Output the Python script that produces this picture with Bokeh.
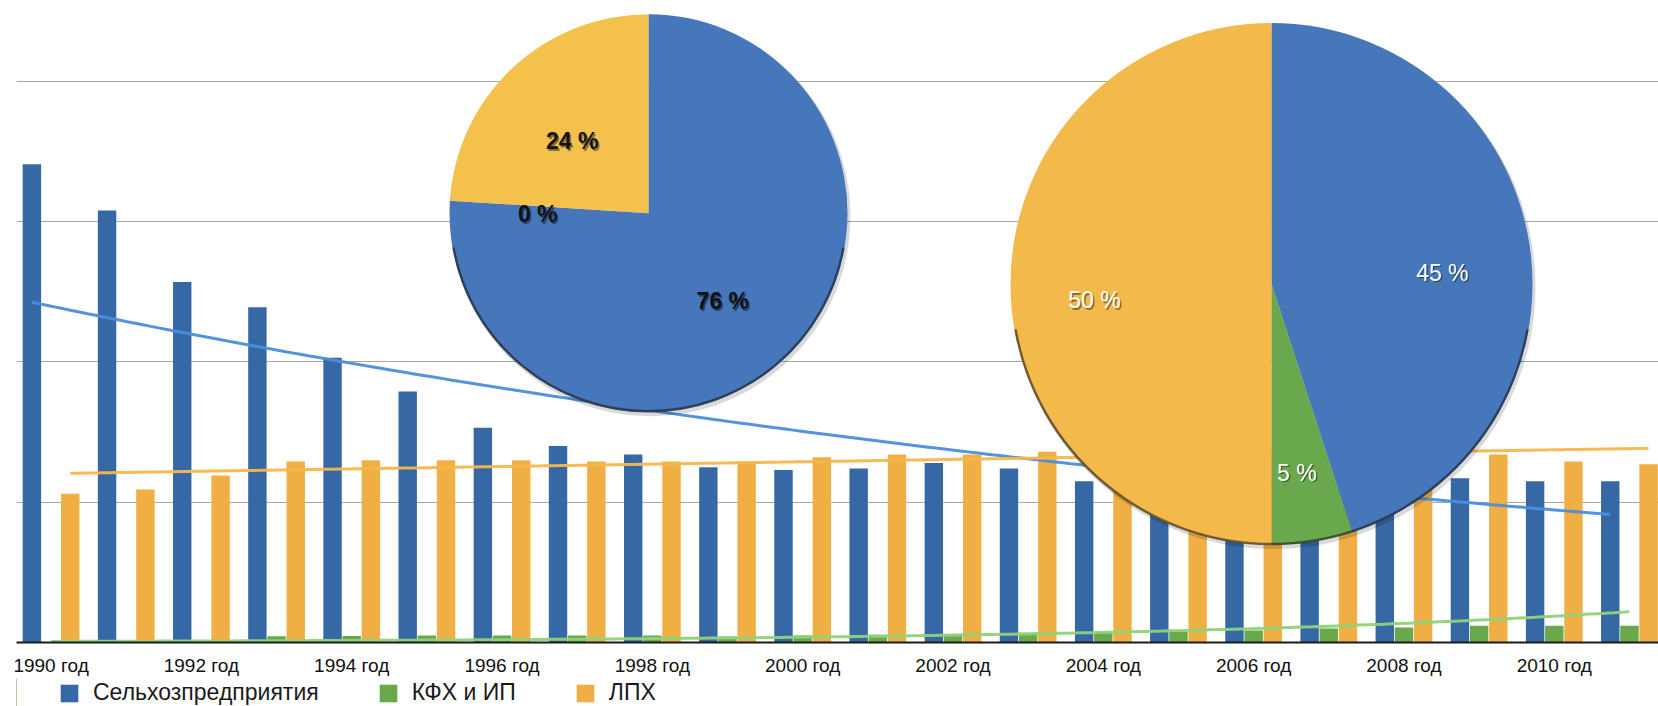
import numpy as np
from bokeh.plotting import figure
from bokeh.layouts import column
from bokeh.models import FixedTicker, Legend, LegendItem, Range1d, ColumnDataSource
from bokeh.core.properties import value
from bokeh.embed import file_html
from bokeh.resources import INLINE

# ---------------- data ----------------
years = list(range(1990, 2012))
tick_years = years[::2]
tick_labels = [f"{y} год" for y in tick_years]
series_names = ["Сельхозпредприятия", "КФХ и ИП", "ЛПХ"]

agri = [3.41, 3.08, 2.57, 2.39, 2.03, 1.79, 1.53, 1.40, 1.34, 1.25, 1.23,
        1.24, 1.28, 1.24, 1.15, 1.15, 1.12, 1.15, 1.17, 1.17, 1.15, 1.15]
kfh = [0.0005, 0.002, 0.006, 0.045, 0.047, 0.05, 0.05, 0.05, 0.05, 0.043, 0.05,
       0.055, 0.06, 0.07, 0.075, 0.078, 0.085, 0.10, 0.107, 0.12, 0.12, 0.12]
lph = [1.06, 1.09, 1.19, 1.29, 1.30, 1.30, 1.30, 1.29, 1.29, 1.29, 1.32,
       1.34, 1.34, 1.36, 1.37, 1.37, 1.37, 1.36, 1.36, 1.34, 1.29, 1.27]

pie_1990 = [76, 0, 24]   # Сельхозпредприятия, КФХ и ИП, ЛПХ
pie_2011 = [45, 5, 50]

# ---------------- styles / layout ----------------
BAR_COLORS = ["#3768A6", "#69A84B", "#F0AF45"]
TREND_COLORS = ["#4A8EDD", "#8FD378", "#F8B64A"]
PIE_COLORS_1 = ["#4677BB", "#69A84D", "#F4C24C"]
PIE_COLORS_2 = ["#4677BB", "#69A84D", "#F3B94A"]
OFFSETS = [-0.255, 0.0, 0.255]
BAR_W = 0.245
FONT = "Liberation Sans"

W = 1658
MAIN_H, LEG_H = 678, 28
LEFT = 16
FRAME_H = 643
FRAME_W = W - LEFT
PX_X, PX_Y = 75.16, 140.5
X0 = -0.46
X1 = X0 + FRAME_W / PX_X
Y0 = 0.0
Y1 = FRAME_H / PX_Y


def page_to_data(px, py):
    return X0 + (px - LEFT) / PX_X, Y1 - py / PX_Y


p = figure(width=W, height=MAIN_H,
           x_range=Range1d(X0, X1), y_range=Range1d(Y0, Y1),
           output_backend="svg", toolbar_location=None,
           y_axis_location=None, min_border_left=LEFT, min_border_right=0,
           min_border_top=0, min_border_bottom=MAIN_H - FRAME_H,
           outline_line_color=None,
           background_fill_color="white", border_fill_color="white")

p.xgrid.grid_line_color = None
p.ygrid.ticker = FixedTicker(ticks=[1, 2, 3, 4])
p.ygrid.grid_line_color = "#A8A8A8"
p.ygrid.grid_line_width = 1

xa = p.xaxis[0]
xa.ticker = FixedTicker(ticks=[y - 1990 for y in tick_years])
xa.major_label_overrides = {y - 1990: lab for y, lab in zip(tick_years, tick_labels)}
xa.major_tick_line_color = None
xa.minor_tick_line_color = None
xa.axis_line_color = "#1a1a1a"
xa.axis_line_width = 2
xa.major_label_text_font = FONT
xa.major_label_text_font_size = "19px"
xa.major_label_text_color = "#111111"
xa.major_label_standoff = 6

idx = np.arange(len(years))
series = [agri, kfh, lph]
for vals, col, off in zip(series, BAR_COLORS, OFFSETS):
    p.vbar(x=idx + off, top=vals, width=BAR_W, bottom=0,
           fill_color=col, line_color=None)

# trendlines (Excel-style: exponential for first two, linear for ЛПХ)
xs = np.linspace(0, len(years) - 1, 200)
b_exp = np.polyfit(idx, np.log(agri), 1)
g_exp = np.polyfit(idx, np.log(kfh), 1)
o_lin = np.polyfit(idx, lph, 1)
trends = [np.exp(np.polyval(b_exp, xs)), np.exp(np.polyval(g_exp, xs)), np.polyval(o_lin, xs)]
for tr, col, off in zip(trends, TREND_COLORS, OFFSETS):
    p.line(xs + off, tr, line_color=col, line_width=3, line_alpha=0.95)


def draw_pie(shares, colors, center_page, radius, label_origin_page, label_dist, label_color, bold):
    cx, cy = page_to_data(*center_page)
    total = float(sum(shares))
    cum = 0.0
    starts, ends, cols = [], [], []
    label_x, label_y, label_t = [], [], []
    lx0, ly0 = label_origin_page
    for s, col in zip(shares, colors):
        a0 = cum / total * 2 * np.pi
        a1 = (cum + s) / total * 2 * np.pi
        mid = (a0 + a1) / 2
        if s > 0:
            starts.append(np.pi / 2 - a0)
            ends.append(np.pi / 2 - a1)
            cols.append(col)
        lx, ly = page_to_data(lx0 + label_dist * np.sin(mid), ly0 - label_dist * np.cos(mid))
        label_x.append(lx)
        label_y.append(ly)
        label_t.append(f"{s} %")
        cum += s
    # soft shadow
    p.circle(x=[cx + 2 / PX_X], y=[cy - 3 / PX_Y], radius=radius + 1, radius_units="screen",
             fill_color="#000000", fill_alpha=0.15, line_color=None)
    src = ColumnDataSource(dict(x=[cx] * len(cols), y=[cy] * len(cols),
                                s=starts, e=ends, c=cols))
    p.wedge(x="x", y="y", radius=radius, radius_units="screen",
            start_angle="s", end_angle="e", direction="clock",
            fill_color="c", line_color=None, source=src)
    # dark rim on the lower edge
    p.arc(x=[cx], y=[cy], radius=radius - 1, radius_units="screen",
          start_angle=np.radians(190), end_angle=np.radians(350),
          line_color="#1b1b1b", line_alpha=0.6, line_width=2.5)
    style = "bold" if bold else "normal"
    p.text(x=[x + 1.5 / PX_X for x in label_x], y=[y - 1.5 / PX_Y for y in label_y],
           text=label_t, text_font=value(FONT), text_font_size="23px",
           text_font_style=style, text_color="#000000", text_alpha=0.45,
           text_align="center", text_baseline="middle")
    p.text(x=label_x, y=label_y, text=label_t, text_font=value(FONT),
           text_font_size="23px", text_font_style=style, text_color=label_color,
           text_align="center", text_baseline="middle")


draw_pie(pie_1990, PIE_COLORS_1, (648, 213), 199, (647, 221), 110, "#111111", True)
draw_pie(pie_2011, PIE_COLORS_2, (1271, 284), 261, (1269, 300), 175, "#ffffff", False)

# ---------------- legend strip ----------------
lg = figure(width=W, height=LEG_H, x_range=Range1d(0, 1), y_range=Range1d(0, 1),
            output_backend="svg", toolbar_location=None,
            x_axis_location=None, y_axis_location=None,
            min_border_left=0, min_border_right=0, min_border_top=0, min_border_bottom=0,
            outline_line_color=None, background_fill_color="white", border_fill_color="white")
lg.xgrid.grid_line_color = None
lg.ygrid.grid_line_color = None
# legend swatches: glyphs placed outside the visible range so only the legend shows them
leg_renderers = [lg.vbar(x=[-5], top=[1], width=0.1, fill_color=c, line_color=None)
                 for c in BAR_COLORS]
legend = Legend(items=[LegendItem(label=n, renderers=[r]) for n, r in zip(series_names, leg_renderers)],
                orientation="horizontal", location=(42, 0),
                glyph_width=22, glyph_height=22, label_standoff=13, spacing=58,
                padding=0, margin=0, border_line_color=None,
                background_fill_alpha=0,
                label_text_font=FONT, label_text_font_size="23px",
                label_text_color="#1a1a1a", label_height=22)
lg.add_layout(legend)

layout = column(p, lg, spacing=0)
open("out.html", "w").write(file_html(layout, INLINE))
